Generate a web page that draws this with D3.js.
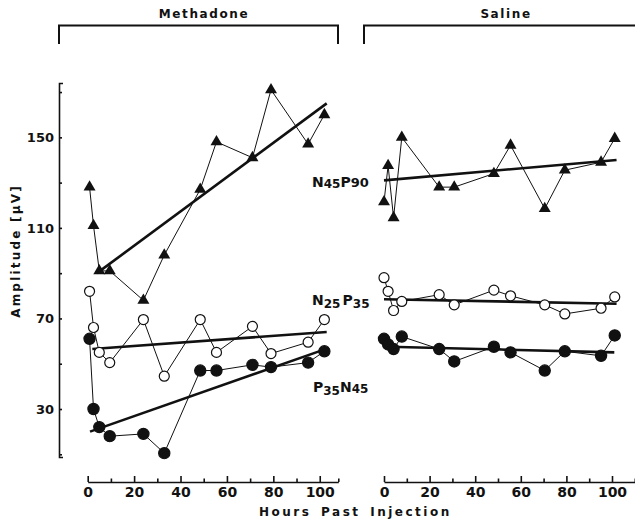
<!DOCTYPE html>
<html>
    <head>
        <meta charset="utf-8">
        <style>
            html, body {
                margin: 0px;
                padding: 0px;
                background-color: #ffffff;
            }

            svg text {
                font-family: "DejaVu Sans", sans-serif;
                font-weight: bold;
                fill: #111;
            }

            .axis .domain, .axis line {
                stroke: #111;
                stroke-width: 1.6;
            }

            .axis text {
                font-size: 14px;
                font-family: "DejaVu Sans", sans-serif;
                font-weight: bold;
            }
        </style>
        <script src="https://cdn.jsdelivr.net/npm/d3@7/dist/d3.min.js"></script>
    </head>
    <body>
        <div id="main"></div>

        <script>
            // values
            var methHours = [0.8, 2.5, 5, 9.5, 24, 33, 48.5, 55.5, 71, 79, 95, 102];
            var methN45P90 = [128, 111, 91, 91, 78, 98, 127, 148, 141, 171, 147, 160];
            var methN25P35 = [82, 66, 55, 50.5, 69.5, 44.5, 69.5, 55, 66.5, 54.5, 59.5, 69.5];
            var methP35N45 = [61, 30, 22, 18, 19, 10.5, 47, 47, 49.5, 48.5, 50.5, 55.5];

            var salHours = [0, 1.8, 4.2, 7.8, 24.2, 30.8, 48.2, 55.5, 70.5, 79.3, 95.2, 101.2];
            var salN45P90 = [121.5, 137.5, 114.5, 150, 128, 128, 134, 146.5, 118.5, 135.5, 139, 149.5];
            var salN25P35 = [88, 82, 73.5, 77.5, 80.5, 76, 82.5, 80, 76, 72, 74.5, 79.5];
            var salP35N45 = [61, 58.5, 56.5, 62, 56.5, 51, 57.5, 55, 47, 55.5, 53.5, 62.5];

            // regression lines, [hour, value] end points
            var methFitN45P90 = [[4, 90], [103, 165]];
            var methFitN25P35 = [[2, 56.5], [103, 64]];
            var methFitP35N45 = [[1, 20], [104, 57]];
            var salFitN45P90 = [[0, 131], [102, 140]];
            var salFitN25P35 = [[0, 78.5], [102, 76.5]];
            var salFitP35N45 = [[2, 57.5], [101, 55]];

            var yTickLabels = [30, 70, 110, 150];
            var yTicks = [10, 30, 50, 70, 90, 110, 130, 150, 170];
            var xTickLabels = [0, 20, 40, 60, 80, 100];
            var xMinorTicks = [10, 30, 50, 70, 90];

            var width = 635;
            var height = 520;

            var svg = d3.select("#main")
                        .append("svg")
                        .attr("width", width)
                        .attr("height", height);

            var y = d3.scaleLinear().domain([8.8, 174]).range([457, 83]);
            var xM = d3.scaleLinear().domain([0, 108]).range([87.7, 338.3]);
            var xS = d3.scaleLinear().domain([0, 110]).range([384, 634.8]);

            // group brackets + titles
            function bracket(x0, x1, label, cx) {
                svg.append("path")
                    .attr("d", "M" + x0 + ",44V25.5H" + x1 + (x1 < width ? "V44" : ""))
                    .attr("fill", "none")
                    .attr("stroke", "#111")
                    .attr("stroke-width", 2);
                svg.append("text")
                    .attr("x", cx)
                    .attr("y", 18)
                    .attr("text-anchor", "middle")
                    .style("font-size", "12px")
                    .style("letter-spacing", "1.6px")
                    .text(label);
            }
            bracket(59, 338, "Methadone", 204);
            bracket(364, 640, "Saline", 506);

            // y axis
            svg.append("g")
                .attr("class", "axis")
                .attr("transform", "translate(59,0)")
                .call(d3.axisRight(y).tickValues(yTicks).tickSizeInner(3).tickSizeOuter(4).tickFormat(""));
            var yl = svg.append("g")
                .attr("class", "axis")
                .attr("transform", "translate(59,0)")
                .call(d3.axisLeft(y).tickValues(yTickLabels).tickSize(0).tickPadding(5));
            yl.select(".domain").remove();
            yl.selectAll("text").style("font-size", "13px");

            svg.append("text")
                .attr("transform", "translate(20,251) rotate(-90)")
                .attr("text-anchor", "middle")
                .style("font-size", "12px")
                .style("letter-spacing", "2.2px")
                .text("Amplitude [\u03bcV]");

            // x axes
            function xAxis(scale, extra) {
                var g = svg.append("g")
                    .attr("class", "axis")
                    .attr("transform", "translate(0,482)");
                g.call(d3.axisBottom(scale).tickValues(xTickLabels.concat(extra))
                    .tickSizeInner(-7).tickSizeOuter(0).tickPadding(5)
                    .tickFormat(function(d) { return xTickLabels.indexOf(d) >= 0 ? d : ""; }));
                g.selectAll(".tick line").attr("y2", function(d) { return xTickLabels.indexOf(d) >= 0 ? -6 : -3.5; });
                g.selectAll(".tick text").attr("dy", "0.72em");
            }
            xAxis(xM, xMinorTicks.concat([108]));
            xAxis(xS, xMinorTicks.concat([110]));

            svg.append("text")
                .attr("x", 259)
                .attr("y", 516)
                .style("font-size", "12px")
                .style("letter-spacing", "2.5px")
                .style("word-spacing", "3px")
                .text("Hours Past Injection");

            // series
            function series(xs, hours, vals, fit, kind) {
                var pts = hours.map(function(h, i) { return [h, vals[i]]; });
                var line = d3.line()
                    .x(function(d) { return xs(d[0]); })
                    .y(function(d) { return y(d[1]); });
                svg.append("path")
                    .datum(pts)
                    .attr("d", line)
                    .attr("fill", "none")
                    .attr("stroke", "#111")
                    .attr("stroke-width", 1);
                svg.append("path")
                    .datum(fit)
                    .attr("d", line)
                    .attr("fill", "none")
                    .attr("stroke", "#111")
                    .attr("stroke-width", 2.6);
                var m = svg.append("g");
                if (kind === "tri") {
                    m.selectAll("path").data(pts).enter().append("path")
                        .attr("d", d3.symbol().type(d3.symbolTriangle).size(62))
                        .attr("transform", function(d) { return "translate(" + xs(d[0]) + "," + y(d[1]) + ")"; })
                        .attr("fill", "#111");
                } else {
                    m.selectAll("circle").data(pts).enter().append("circle")
                        .attr("cx", function(d) { return xs(d[0]); })
                        .attr("cy", function(d) { return y(d[1]); })
                        .attr("r", kind === "open" ? 5 : 5.6)
                        .attr("fill", kind === "open" ? "#fff" : "#111")
                        .attr("stroke", "#111")
                        .attr("stroke-width", 1.2);
                }
            }
            series(xM, methHours, methN45P90, methFitN45P90, "tri");
            series(xM, methHours, methN25P35, methFitN25P35, "open");
            series(xM, methHours, methP35N45, methFitP35N45, "fill");
            series(xS, salHours, salN45P90, salFitN45P90, "tri");
            series(xS, salHours, salN25P35, salFitN25P35, "open");
            series(xS, salHours, salP35N45, salFitP35N45, "fill");

            // component labels
            function label(x, yy, parts) {
                var t = svg.append("text")
                    .attr("x", x)
                    .attr("y", yy)
                    .style("font-size", "14px");
                parts.forEach(function(p) {
                    t.append("tspan")
                        .attr("dy", p[2])
                        .style("font-size", p[1] + "px")
                        .text(p[0]);
                });
            }
            label(312, 187, [["N", 14, 0], ["45", 12, 1], ["P", 14, -1], ["90", 13, 0]]);
            label(312, 305, [["N", 14, 0], ["25", 12, 3], [" ", 6, -3], ["P", 14, 0], ["35", 12, 3]]);
            label(313, 392, [["P", 14, 0], ["35", 12, 3], ["N", 14, -3], ["45", 12, 1]]);
        </script>
    </body>
</html>
